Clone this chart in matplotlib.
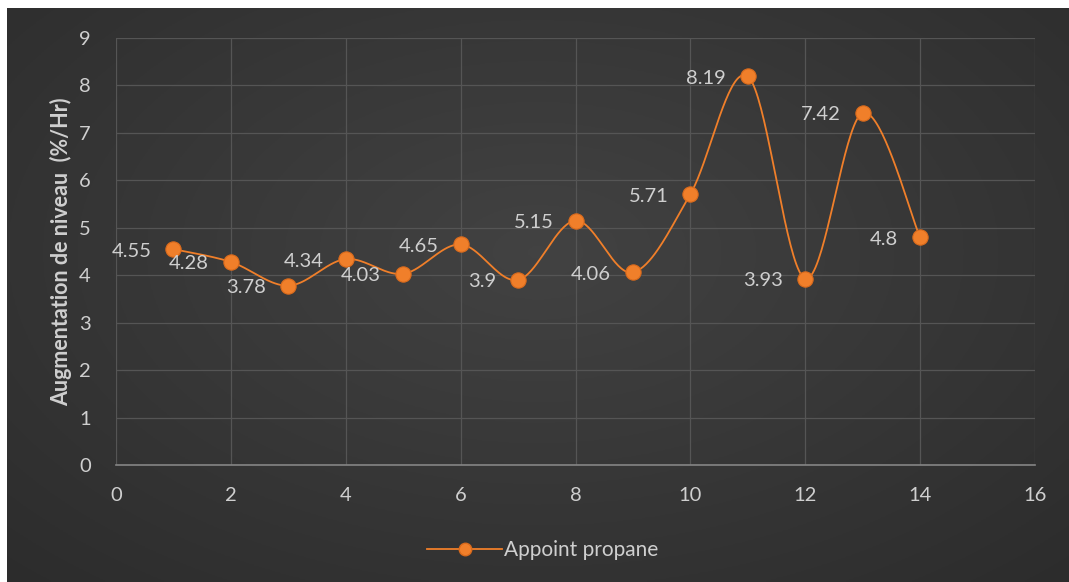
import numpy as np
import matplotlib
matplotlib.use("Agg")
import matplotlib.pyplot as plt
from matplotlib.lines import Line2D

# Données : appoint propane
x_vals = [1, 2, 3, 4, 5, 6, 7, 8, 9, 10, 11, 12, 13, 14]
y_vals = [4.55, 4.28, 3.78, 4.34, 4.03, 4.65, 3.9, 5.15, 4.06, 5.71, 8.19, 3.93, 7.42, 4.8]
serie = "Appoint propane"
y_titre = "Augmentation de niveau  (%/Hr)"

ORANGE = "#f07f2a"
TEXTE = "#cfcfcf"
GRILLE = "#555555"

plt.rcParams['font.family'] = ['Lato', 'DejaVu Sans']


# Lissage type Excel (spline de Catmull-Rom en Bézier cubique)
def lissage(xs, ys, n=40):
    xs = np.asarray(xs, float)
    ys = np.asarray(ys, float)
    px = np.concatenate([[xs[0]], xs, [xs[-1]]])
    py = np.concatenate([[ys[0]], ys, [ys[-1]]])
    ox, oy = [], []
    t = np.linspace(0, 1, n)
    for i in range(1, len(px) - 2):
        p0 = np.array([px[i], py[i]])
        p3 = np.array([px[i + 1], py[i + 1]])
        p1 = p0 + (np.array([px[i + 1], py[i + 1]]) - np.array([px[i - 1], py[i - 1]])) / 6
        p2 = p3 - (np.array([px[i + 2], py[i + 2]]) - np.array([px[i], py[i]])) / 6
        b = ((1 - t) ** 3)[:, None] * p0 + (3 * (1 - t) ** 2 * t)[:, None] * p1 \
            + (3 * (1 - t) * t ** 2)[:, None] * p2 + (t ** 3)[:, None] * p3
        ox.extend(b[:, 0])
        oy.extend(b[:, 1])
    return np.array(ox), np.array(oy)


fig = plt.figure(figsize=(10.69, 5.82), dpi=100, facecolor="white")

# Fond sombre en dégradé radial
bg = fig.add_axes([7 / 1069, 0, 1 - 7 / 1069, 1 - 8 / 582])
gx, gy = np.meshgrid(np.linspace(-1, 1, 400), np.linspace(-1, 1, 220))
r = np.sqrt((gx / 1.0) ** 2 + ((gy + 0.15) / 1.1) ** 2)
val = np.clip(0.26 - 0.06 * r, 0, 1)
bg.imshow(np.dstack([val, val, val]), aspect="auto", extent=[0, 1, 0, 1])
bg.set_axis_off()

ax = fig.add_axes([116 / 1069, 1 - 465 / 582, (1035 - 116) / 1069, (465 - 38) / 582])
ax.set_facecolor("none")
ax.set_xlim(0, 16)
ax.set_ylim(0, 9)
ax.set_xticks(range(0, 17, 2))
ax.set_yticks(range(0, 10))
ax.grid(True, color=GRILLE, linewidth=0.9)
ax.set_axisbelow(True)
for s in ["top", "right", "left"]:
    ax.spines[s].set_visible(False)
ax.spines["bottom"].set_color("#858585")
ax.spines["bottom"].set_linewidth(1.2)
ax.tick_params(length=0, colors=TEXTE, labelsize=14.5)
ax.tick_params(axis="x", pad=16)
ax.tick_params(axis="y", pad=18)
ax.set_ylabel(y_titre, color=TEXTE, fontsize=15.5, fontweight="bold", labelpad=5)

sx, sy = lissage(x_vals, y_vals)
ax.plot(sx, sy, color=ORANGE, linewidth=1.3, zorder=3, clip_on=False)
ax.plot(x_vals, y_vals, linestyle="none", marker="o", markersize=11,
        markerfacecolor=ORANGE, markeredgecolor="#d96a1c", markeredgewidth=0.8,
        zorder=4, clip_on=False)

for xv, yv in zip(x_vals, y_vals):
    ax.annotate(f"{yv:g}", (xv, yv), xytext=(-22, -2), textcoords="offset pixels",
                ha="right", va="center", color=TEXTE, fontsize=14.5, zorder=5)

poignee = Line2D([], [], color=ORANGE, linewidth=1.3, marker="o", markersize=9,
                 markerfacecolor=ORANGE, markeredgecolor="#d96a1c")
leg = fig.legend([poignee], [serie], loc="center", bbox_to_anchor=(0.508, 1 - 550 / 582),
                 frameon=False, fontsize=15, handlelength=3.6, handletextpad=0.1)
for t in leg.get_texts():
    t.set_color(TEXTE)

fig.savefig("out.png", dpi=100, facecolor="white")
